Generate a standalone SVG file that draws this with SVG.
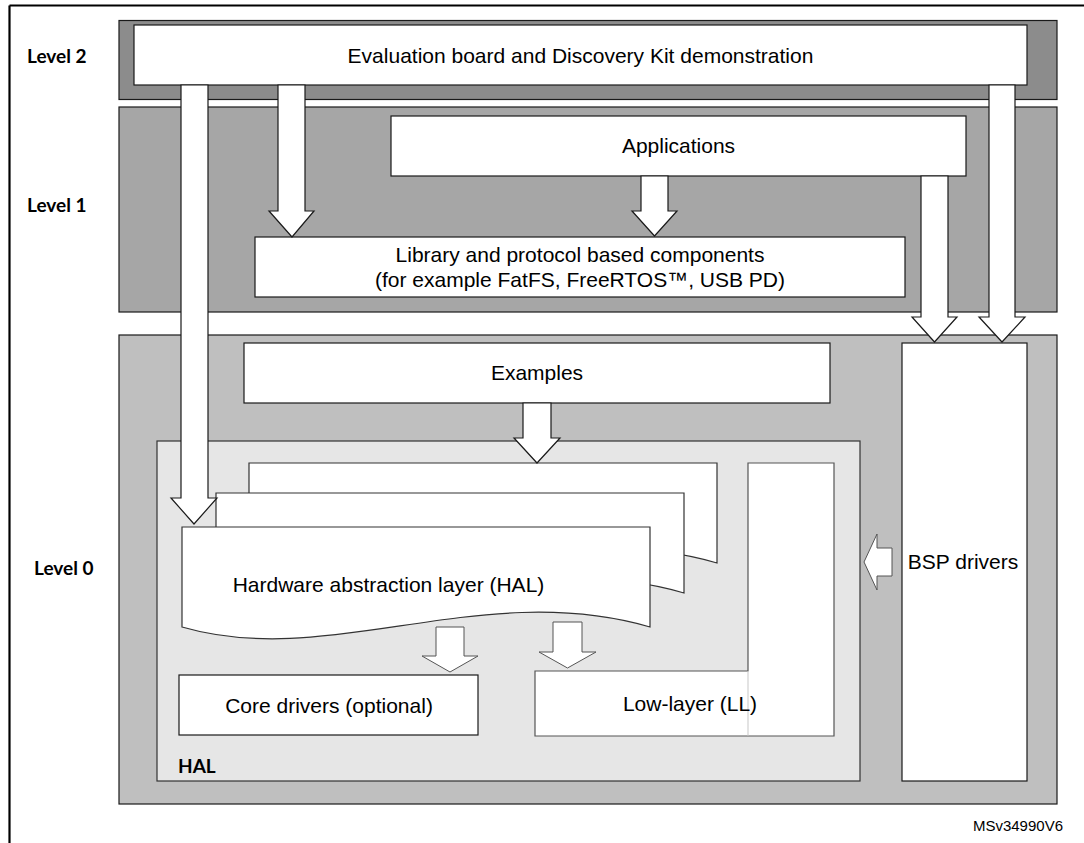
<svg xmlns="http://www.w3.org/2000/svg" width="1084" height="843" viewBox="0 0 1084 843">
<defs>
<style>
.band{stroke:#1a1a1a;stroke-width:1.2}
.box{fill:#fff;stroke:#1a1a1a;stroke-width:1.2}
.gbox{fill:#fff;stroke:#555;stroke-width:1.2}
.arr{fill:#fff;stroke:#1a1a1a;stroke-width:1.2;stroke-linejoin:miter}
.sarr{fill:#fff;stroke:#555;stroke-width:1}
.t{font-family:"Liberation Sans",Arial,sans-serif;font-size:21px;fill:#000;text-anchor:middle}
.lvl{font-family:Lato,"Liberation Sans",sans-serif;font-weight:bold;font-size:19px;fill:#000}
</style>
<path id="page" d="M182,527 H650 V627 C480,578 330,670 182,627 Z"/>
</defs>
<g id="frame" fill="none" stroke="#000" stroke-width="2.2">
<line x1="9.5" y1="5.5" x2="1084" y2="5.5"/>
<line x1="9.5" y1="5.5" x2="9.5" y2="843"/>
</g>
<g id="level2">
<rect class="band" x="119" y="20.5" width="938" height="79" fill="#8c8c8c"/>
<rect class="box" x="134" y="25" width="893" height="60"/>
<text class="t" x="580.5" y="63">Evaluation board and Discovery Kit demonstration</text>
</g>
<g id="level1">
<rect class="band" x="119" y="107" width="938" height="205" fill="#a6a6a6"/>
</g>
<g id="level0">
<rect class="band" x="119" y="335" width="938" height="469" fill="#bfbfbf"/>
</g>
<g id="applications">
<rect class="box" x="391" y="116" width="575" height="60"/>
<text class="t" x="678.5" y="153">Applications</text>
</g>
<g id="library">
<rect class="box" x="255" y="237" width="650" height="60"/>
<text class="t" x="580" y="262">Library and protocol based components</text>
<text class="t" x="580" y="287">(for example FatFS, FreeRTOS™, USB PD)</text>
</g>
<g id="examples">
<rect class="box" x="244" y="343" width="586" height="60"/>
<text class="t" x="537" y="380">Examples</text>
</g>
<g id="bsp">
<rect class="box" x="902" y="343" width="125" height="438"/>
<text class="t" x="963" y="569">BSP drivers</text>
</g>
<g id="hal-container">
<rect x="157" y="441" width="703" height="340" fill="#e6e6e6" stroke="#333" stroke-width="1.2"/>
<text x="178" y="773" font-family="Lato,'Liberation Sans',sans-serif" font-weight="bold" font-size="19" fill="#000">HAL</text>
</g>
<g id="hal">
<use href="#page" transform="translate(67,-64)" fill="#fff" stroke="#333" stroke-width="1.2"/>
<use href="#page" transform="translate(34,-34)" fill="#fff" stroke="#333" stroke-width="1.2"/>
<use href="#page" fill="#fff" stroke="#333" stroke-width="1.2"/>
<text class="t" x="388.5" y="592">Hardware abstraction layer (HAL)</text>
</g>
<g id="low-layer">
<polygon points="535,671 748,671 748,463 834,463 834,736 535,736" fill="#fff" stroke="#555" stroke-width="1.2"/>
<line x1="748" y1="671.6" x2="748" y2="735.4" stroke="#d0d0d0" stroke-width="1.2"/>
<text class="t" x="690" y="711">Low-layer (LL)</text>
</g>
<g id="core-drivers">
<rect class="box" x="179" y="675" width="299" height="60"/>
<text class="t" x="329" y="713">Core drivers (optional)</text>
</g>
<g id="connectors">
<polygon class="arr" points="181,85 181,498 171,498 194,524 217,498 208,498 208,85"/>
<polygon class="arr" points="278,85 278,211 269,211 292,237 314,211 305,211 305,85"/>
<polygon class="arr" points="641,176 641,211 632,211 654.5,236 677,211 668,211 668,176"/>
<polygon class="arr" points="921,176 921,317 912,317 934.5,342 957,317 948,317 948,176"/>
<polygon class="arr" points="989,85 989,317 979,317 1002,342 1025,317 1015,317 1015,85"/>
<polygon class="arr" points="523,403 523,438 514,438 537,463 560,438 551,438 551,403"/>
<polygon class="sarr" points="436,627 436,656 422,656 450,672 478,656 464,656 464,627"/>
<polygon class="sarr" points="553,622 553,652 539,652 567.5,668 596,652 582,652 582,622"/>
<polygon class="sarr" points="864,562 877,534 877,548 892,548 892,576 877,576 877,590"/>
</g>
<text x="1063" y="831" font-family="'Liberation Sans',Arial,sans-serif" font-size="15" text-anchor="end" fill="#000">MSv34990V6</text>
<g id="level-labels">
<text class="lvl" x="27" y="63">Level 2</text>
<text class="lvl" x="27" y="212">Level 1</text>
<text class="lvl" x="34" y="575">Level 0</text>
</g>
</svg>
